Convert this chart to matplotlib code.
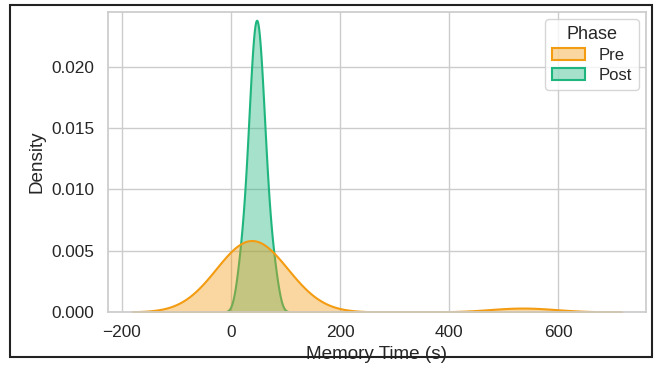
import numpy as np
import pandas as pd
import matplotlib
matplotlib.use("Agg")
import matplotlib.pyplot as plt
import seaborn as sns
from matplotlib.patches import Rectangle

# memory times (s)
pre_times = [0, 4, 9, 13, 17, 22, 26, 29, 32, 35, 38, 42, 46, 50, 54, 59, 64, 70, 78, 88, 535]
post_times = [16, 25, 30, 34, 37, 39, 41, 43, 45, 46, 48, 50, 52, 54, 56, 58, 61, 65, 70, 80]
phases = ["Pre", "Post"]
phase_colors = {"Pre": "#f39c12", "Post": "#1fb57f"}

df = pd.DataFrame({
    "Memory Time (s)": pre_times + post_times,
    "Phase": ["Pre"] * len(pre_times) + ["Post"] * len(post_times),
})

sns.set_theme(style="whitegrid")
plt.rcParams["font.family"] = ["Liberation Sans", "DejaVu Sans"]

fig = plt.figure(figsize=(6.6, 3.7), dpi=100)
ax = fig.add_axes([0.163, 0.157, 0.816, 0.811])

sns.kdeplot(data=df, x="Memory Time (s)", hue="Phase", hue_order=phases,
            palette=phase_colors, fill=True, common_norm=False,
            alpha=0.4, linewidth=1.5, ax=ax)

ax.set_ylim(0, 0.0245)
ax.set_xlabel("Memory Time (s)", fontsize=13.6)
ax.set_ylabel("Density", fontsize=13.6)
ax.tick_params(labelsize=12.4)
sns.move_legend(ax, "upper right", fontsize=12, title_fontsize=13,
                labelspacing=0.3, borderaxespad=0.45)

# screenshot frame
fig.patches.append(Rectangle((10 / 660, 13 / 370), 642 / 660, 352 / 370,
                             transform=fig.transFigure, fill=False,
                             edgecolor="#222222", linewidth=1.5, zorder=10))

fig.savefig("out.png", dpi=100)
